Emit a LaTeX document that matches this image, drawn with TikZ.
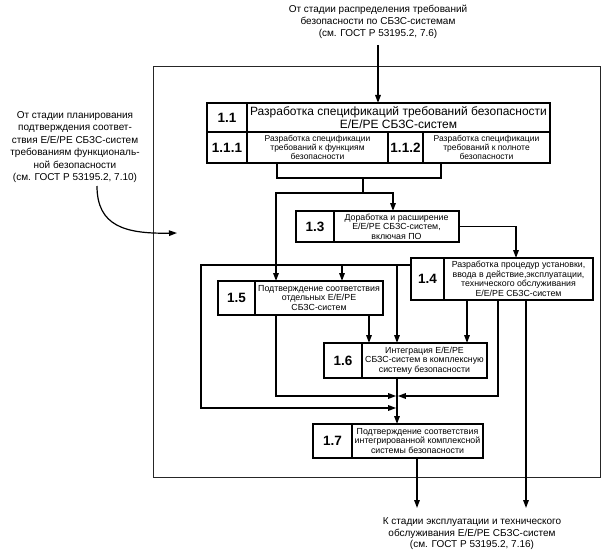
\documentclass[tikz,border=0pt]{standalone}
\usepackage{fontspec}
\setmainfont{Liberation Sans}
\usetikzlibrary{arrows.meta}
\begin{document}
\begin{tikzpicture}[x=1pt,y=-1pt,
  cell/.style={draw, line width=1.5pt, inner sep=0.5pt, outer sep=0pt, anchor=north west, align=center},
  lab/.style={cell, font=\fontsize{13.5}{14}\selectfont\bfseries},
  txt/.style={cell, font=\fontsize{8.8}{9.6}\selectfont},
  stxt/.style={cell, font=\fontsize{8.5}{9.3}\selectfont},
  outtxt/.style={align=center, inner sep=0pt, font=\fontsize{10}{12}\selectfont},
  conn/.style={line width=1.5pt},
  arr/.style={conn, -{Triangle[length=8pt,width=5.5pt]}},
  frame/.style={line width=1pt, draw=black!85}
]
\useasboundingbox (0,0) rectangle (605,559);
\fill[white] (0,0) rectangle (605,559);

% frame
\draw[frame] (153,67) rectangle (600,477);

% outer texts
\node[outtxt] (topT) at (378,22) {От стадии распределения требований\\безопасности по СБЗС-системам\\(см. ГОСТ Р 53195.2, 7.6)};
\node[outtxt, font=\fontsize{10}{12.4}\selectfont] (leftT) at (75,147) {От стадии планирования\\подтверждения соответ-\\ствия Е/Е/РЕ СБЗС-систем\\требованиям функциональ-\\ной безопасности\\(см. ГОСТ Р 53195.2, 7.10)};
\node[outtxt, font=\fontsize{10}{11.5}\selectfont] (botT) at (472,534) {К стадии эксплуатации и технического\\обслуживания Е/Е/РЕ СБЗС-систем\\(см. ГОСТ Р 53195.2, 7.16)};

% box 1.1
\node[lab, minimum width=40pt, minimum height=29pt] (L11) at (207,103) {1.1};
\node[cell, font=\fontsize{12}{13.5}\selectfont, minimum width=303pt, minimum height=29pt] (T11) at (247,103) {Разработка спецификаций требований безопасности\\Е/Е/РЕ СБЗС-систем};
\node[lab, minimum width=40pt, minimum height=31pt] (L111) at (207,132) {1.1.1};
\node[stxt, minimum width=141pt, minimum height=31pt] (T111) at (247,132) {Разработка спецификации\\требований к функциям\\безопасности};
\node[lab, minimum width=35pt, minimum height=31pt] (L112) at (388,132) {1.1.2};
\node[stxt, minimum width=127pt, minimum height=31pt] (T112) at (423,132) {Разработка спецификации\\требований к полноте\\безопасности};

% box 1.3
\node[lab, minimum width=38pt, minimum height=31pt] (L13) at (296,211) {1.3};
\node[txt, minimum width=125pt, minimum height=31pt] (T13) at (334,211) {Доработка и расширение\\Е/Е/РЕ СБЗС-систем,\\включая ПО};

% box 1.4
\node[lab, minimum width=33pt, minimum height=42pt] (L14) at (411,258) {1.4};
\node[txt, minimum width=149pt, minimum height=42pt] (T14) at (444,258) {Разработка процедур установки,\\ввода в действие,эксплуатации,\\технического обслуживания\\Е/Е/РЕ СБЗС-систем};

% box 1.5
\node[lab, minimum width=37pt, minimum height=34pt] (L15) at (218,281) {1.5};
\node[txt, minimum width=128pt, minimum height=34pt] (T15) at (255,281) {Подтверждение соответствия\\отдельных Е/Е/РЕ\\СБЗС-систем};

% box 1.6
\node[lab, minimum width=38pt, minimum height=35pt] (L16) at (324,343) {1.6};
\node[txt, minimum width=125pt, minimum height=35pt] (T16) at (362,343) {Интеграция Е/Е/РЕ\\СБЗС-систем в комплексную\\систему безопасности};

% box 1.7
\node[lab, minimum width=39pt, minimum height=34pt] (L17) at (313,424) {1.7};
\node[txt, minimum width=131pt, minimum height=34pt] (T17) at (352,424) {Подтверждение соответствия\\интегрированной комплексной\\системы безопасности};

% coordinates
\coordinate (tA) at (378,45);
\coordinate (b1) at (277,178);
\coordinate (b2) at (441,178);
\coordinate (bc) at (363,178);
\coordinate (s1) at (363,193);
\coordinate (s1L) at (276,193);
\coordinate (s1R) at (393,193);
\coordinate (r13) at (516,226);
\coordinate (h4) at (201,265);
\coordinate (h4a) at (342,265);
\coordinate (h4b) at (397,265);
\coordinate (lp) at (201,408);
\coordinate (J) at (397,400);
\coordinate (x369) at (369,0);
\coordinate (x467) at (467,0);
\coordinate (j1L) at (276,396);
\coordinate (j1R) at (498,396);
\coordinate (o1) at (417,508);
\coordinate (o2) at (526,508);
\coordinate (c0) at (97,186);
\coordinate (c1) at (177,233);

% connectors
\draw[arr] (tA) -- (tA |- T11.north);
\draw[conn] (T111.south -| b1) -- (b1) -- (b2) -- (T112.south -| b2);
\draw[conn] (bc) -- (s1);
\draw[arr] (s1) -- (s1R) -- (s1R |- T13.north);
\draw[arr] (s1) -- (s1L) -- (s1L |- T15.north);
\draw[arr] (T13.east) -- (T13.east -| r13) -- (r13 |- T14.north);
\draw[arr, shorten >=0.8pt] (h4 -| L14.west) -- (h4) -- (lp) -- (lp -| J);
\draw[arr] (h4a) -- (h4a |- T15.north);
\draw[arr] (h4b) -- (h4b |- T16.north);
\draw[arr] (T15.south -| x369) -- (x369 |- T16.north);
\draw[arr] (T14.south -| x467) -- (x467 |- T16.north);
\draw[arr, shorten >=0.8pt] (T15.south -| j1L) -- (j1L) -- (j1L -| J);
\draw[arr, shorten >=0.8pt] (T14.south -| j1R) -- (j1R) -- (j1R -| J);
\draw[arr] (T16.south -| J) -- (J |- T17.north);
\draw[arr] (T17.south -| o1) -- (o1);
\draw[arr] (T14.south -| o2) -- (o2);
\draw[line width=1.2pt, -{Triangle[length=8pt,width=5.5pt]}] (c0) .. controls (97,226) and (125,234) .. (c1);
\end{tikzpicture}
\end{document}
